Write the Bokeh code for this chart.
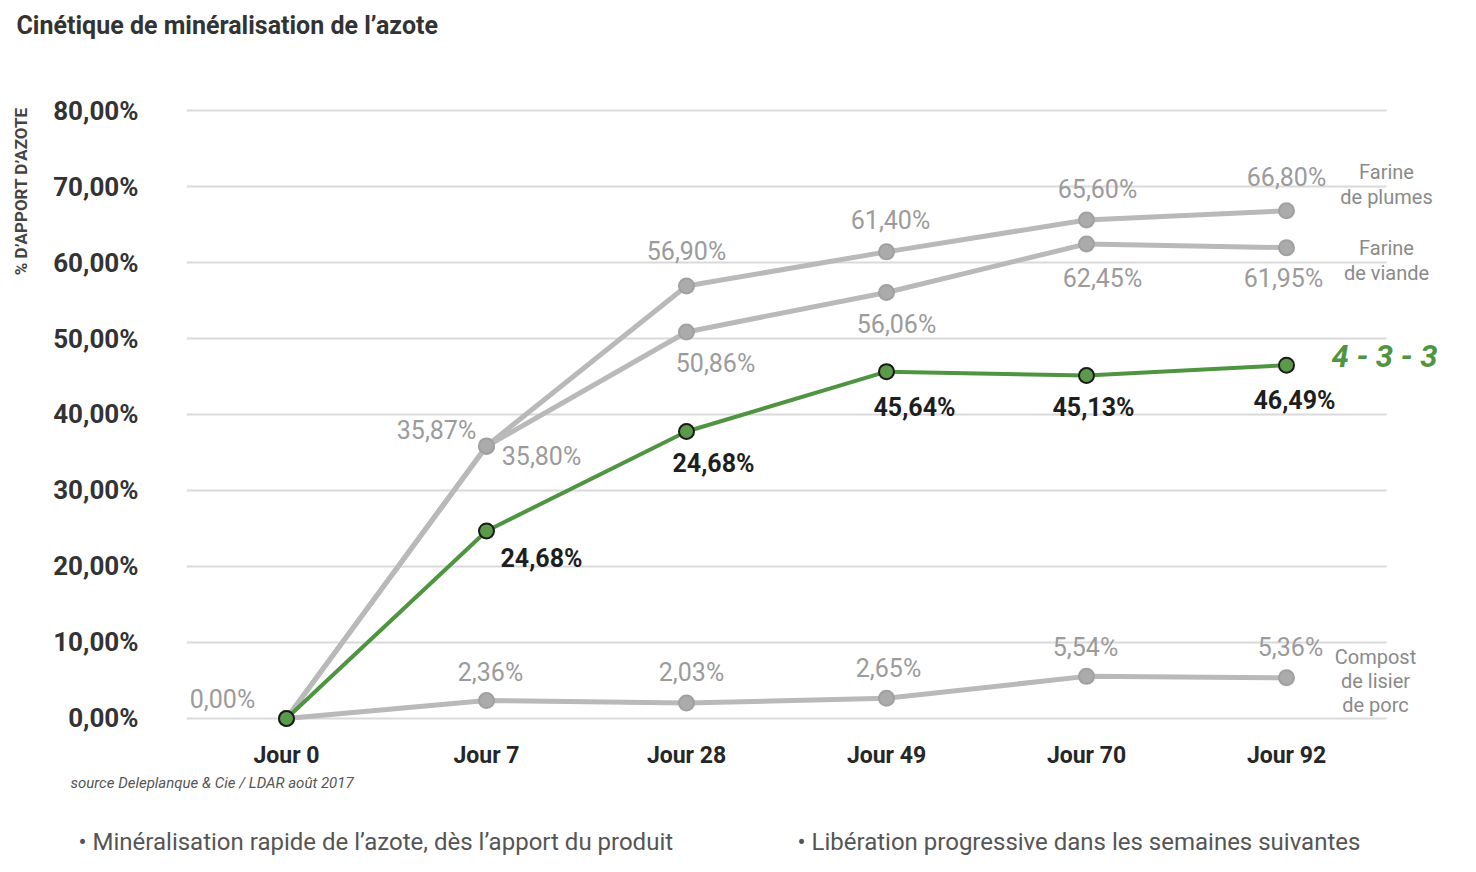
import math
from bokeh.plotting import figure
from bokeh.layouts import column, row
from bokeh.models import ColumnDataSource, Range1d, FixedTicker
from bokeh.core.properties import value
from bokeh.embed import file_html
from bokeh.resources import INLINE

# ---- data ----
days = ["Jour 0", "Jour 7", "Jour 28", "Jour 49", "Jour 70", "Jour 92"]
plumes = [0.0, 35.87, 56.90, 61.40, 65.60, 66.80]
viande = [0.0, 35.80, 50.86, 56.06, 62.45, 61.95]
npk433 = [0.0, 24.68, 37.76, 45.64, 45.13, 46.49]
compost = [0.0, 2.36, 2.03, 2.65, 5.54, 5.36]

plumes_labels = ["", "35,87%", "56,90%", "61,40%", "65,60%", "66,80%"]
viande_labels = ["", "35,80%", "50,86%", "56,06%", "62,45%", "61,95%"]
npk433_labels = ["", "24,68%", "24,68%", "45,64%", "45,13%", "46,49%"]
compost_labels = ["0,00%", "2,36%", "2,03%", "2,65%", "5,54%", "5,36%"]

y_ticks = [0, 10, 20, 30, 40, 50, 60, 70, 80]
y_tick_labels = ["0,00%", "10,00%", "20,00%", "30,00%", "40,00%",
                 "50,00%", "60,00%", "70,00%", "80,00%"]

# label offsets in screen pixels (dx right, dy down)
plumes_off = [(0, 0), (-50, -15), (0, -35), (4, -31), (11, -30), (0, -33)]
viande_off = [(0, 0), (55, 10), (29, 32), (10, 32), (16, 35), (-3, 31)]
npk_off = [(0, 0), (55, 28), (27, 32), (28, 36), (7, 32), (8, 35)]
compost_off = [(-64, -19), (4, -28), (5, -31), (2, -30), (-1, -29), (4, -30)]

FONT = "Roboto"
GRAY_LINE = "#b9b9b9"
GRAY_TXT = "#9b9b9b"
GREEN = "#4f9440"
W = 1460
HEAD_H = 60
MAIN_H = 713
FOOT_H = 83
STRIP_W = 40

xs = [i + 0.5 for i in range(len(days))]


def blank(width, height):
    f = figure(width=width, height=height, output_backend="svg", toolbar_location=None,
               x_range=Range1d(0, width), y_range=Range1d(0, height),
               min_border=0, x_axis_type=None, y_axis_type=None)
    f.outline_line_color = None
    f.grid.grid_line_color = None
    return f


def txt(f, x, y, text, size, color, style="normal", align="left", angle=0.0):
    f.text(x=[x], y=[y], text=[text], text_font=value(FONT), text_font_size=size,
           text_color=color, text_font_style=style, text_align=align,
           text_baseline="middle", angle=angle)


# ---- header ----
head = blank(W, HEAD_H)
txt(head, 16, HEAD_H - 25, "Cinétique de minéralisation de l’azote", "25px", "#333333", "bold")

# ---- left strip (axis title) ----
strip = blank(STRIP_W, MAIN_H)
txt(strip, 20, MAIN_H - (270 - HEAD_H), "% D’APPORT D’AZOTE", "17px", "#444444", "bold",
    "left", math.pi / 2)

# ---- main chart ----
p = figure(width=W - STRIP_W, height=MAIN_H, output_backend="svg", toolbar_location=None,
           x_range=Range1d(0, 6.37), y_range=Range1d(-3.03, 83.95),
           min_border_left=186 - STRIP_W, min_border_right=0, min_border_top=80 - HEAD_H,
           min_border_bottom=MAIN_H - (741 - HEAD_H))
p.outline_line_color = None
p.grid.grid_line_color = None

p.segment(x0=0, x1=len(days), y0=y_ticks, y1=y_ticks, line_color="#dadada", line_width=2)

p.xaxis.ticker = FixedTicker(ticks=xs)
p.xaxis.major_label_overrides = {x: d for x, d in zip(xs, days)}
p.yaxis.ticker = FixedTicker(ticks=y_ticks)
p.yaxis.major_label_overrides = {t: l for t, l in zip(y_ticks, y_tick_labels)}
for ax in (p.xaxis[0], p.yaxis[0]):
    ax.axis_line_color = None
    ax.major_tick_line_color = None
    ax.minor_tick_line_color = None
    ax.major_tick_out = 0
    ax.major_tick_in = 0
    ax.major_label_text_font = FONT
    ax.major_label_text_color = "#262626"
p.yaxis.major_label_text_font_size = "26px"
p.yaxis.major_label_text_font_style = "bold"
p.yaxis.major_label_text_color = "#333333"
p.yaxis.major_label_standoff = 48
p.xaxis.major_label_text_font_size = "23px"
p.xaxis.major_label_text_font_style = "bold"
p.xaxis.major_label_standoff = 0


def series(vals, labels, offs, line_color, fill, outline, lw, txt_color, bold):
    src = ColumnDataSource(dict(x=xs, y=vals, t=labels,
                                dx=[o[0] for o in offs], dy=[o[1] for o in offs]))
    p.line("x", "y", source=src, line_color=line_color, line_width=lw)
    p.scatter("x", "y", source=src, size=15, fill_color=fill,
              line_color=outline, line_width=2)
    p.text("x", "y", text="t", source=src, x_offset="dx", y_offset="dy",
           text_align="center", text_baseline="middle",
           text_font=value(FONT), text_font_size="25px",
           text_font_style="bold" if bold else "normal", text_color=txt_color)


series(compost, compost_labels, compost_off, GRAY_LINE, "#ababab", "#a0a0a0", 5, GRAY_TXT, False)
series(viande, viande_labels, viande_off, GRAY_LINE, "#ababab", "#a0a0a0", 5, GRAY_TXT, False)
series(plumes, plumes_labels, plumes_off, GRAY_LINE, "#ababab", "#a0a0a0", 5, GRAY_TXT, False)
series(npk433, npk433_labels, npk_off, GREEN, "#5c9a4b", "#1a1a1a", 4, "#1e1e1e", True)


def ptxt(x, y, text, size, color, style="normal"):
    p.text(x=[x], y=[y], text=[text], text_font=value(FONT), text_font_size=size,
           text_color=color, text_font_style=style, text_align="center",
           text_baseline="middle")


ptxt(6.0, 71.97, "Farine", "20px", "#8a8a8a")
ptxt(6.0, 68.68, "de plumes", "20px", "#8a8a8a")
ptxt(6.0, 61.97, "Farine", "20px", "#8a8a8a")
ptxt(6.0, 58.68, "de viande", "20px", "#8a8a8a")
ptxt(5.99, 47.63, "4 - 3 - 3", "31px", GREEN, "bold italic")
ptxt(5.945, 8.03, "Compost", "20px", "#8a8a8a")
ptxt(5.945, 4.87, "de lisier", "20px", "#8a8a8a")
ptxt(5.945, 1.71, "de porc", "20px", "#8a8a8a")

# ---- footer ----
foot = blank(W, FOOT_H)
top0 = HEAD_H + MAIN_H
txt(foot, 70, FOOT_H - (782 - top0), "source Deleplanque & Cie / LDAR août 2017", "15px", "#555555", "italic")
txt(foot, 78, FOOT_H - (841 - top0), "• Minéralisation rapide de l’azote, dès l’apport du produit", "24px", "#555555")
txt(foot, 797, FOOT_H - (841 - top0), "• Libération progressive dans les semaines suivantes", "24px", "#555555")

layout = column(head, row(strip, p), foot)
open("out.html", "w").write(file_html(layout, INLINE))
